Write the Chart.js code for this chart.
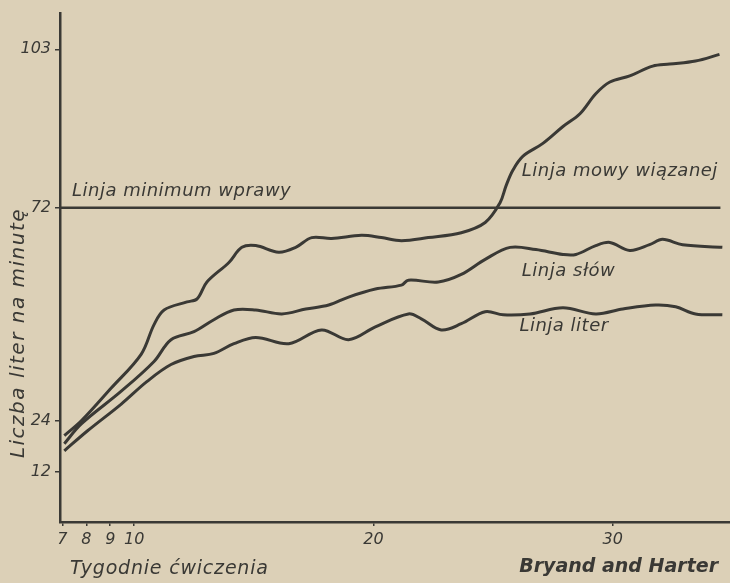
<!DOCTYPE html>
<html>
<head>
<meta charset="utf-8">
<script src="https://cdn.jsdelivr.net/npm/chart.js@4/dist/chart.umd.min.js"></script>
<style>
    html, body { margin: 0; padding: 0; background: #dcd0b7; }
    #wrap { width: 730px; height: 583px; }
</style>
</head>
<body>
<div id="wrap"><canvas id="learningChart"></canvas></div>
<script>
// Tick labels
const xTicks = [7, 8, 9, 10, 20, 30];
const yTicks = [12, 24, 72, 103];

// Linja mowy wiązanej
const mowyWeeks = [7.08, 7.79, 9.04, 10.29, 10.83, 11.25, 12.21, 12.63, 13.04, 13.96, 14.5, 15.08, 16.04, 16.75, 17.42, 18.25, 19.5, 20.33, 21.17, 22.29, 23.67, 24.67, 25.29, 25.54, 25.83, 26.25, 27.08, 27.92, 28.63, 29.29, 29.88, 30.71, 31.67, 32.38, 33.46, 34.46];
const mowyValues = [20.5, 24.0, 31.4, 39.0, 45.7, 49.0, 50.8, 51.5, 55.3, 59.7, 63.1, 63.5, 62.0, 63.1, 65.3, 65.1, 65.8, 65.3, 64.6, 65.3, 66.4, 68.7, 73.0, 76.3, 79.4, 82.1, 84.6, 87.9, 90.4, 94.3, 96.6, 97.8, 99.7, 100.1, 100.7, 102.0];

// Linja słów
const slowWeeks = [7.08, 7.79, 9.46, 10.83, 11.54, 12.5, 13.33, 14.17, 15.08, 16.17, 17.17, 18.13, 18.96, 20.08, 21.17, 21.46, 22.71, 23.67, 24.67, 25.71, 26.79, 27.92, 28.46, 29.29, 29.88, 30.71, 31.54, 32.08, 32.92, 34.58];
const slowValues = [18.6, 23.3, 30.7, 37.4, 42.3, 44.1, 46.8, 49.0, 49.0, 48.1, 49.2, 50.1, 51.9, 53.7, 54.6, 55.7, 55.3, 57.0, 60.4, 63.1, 62.6, 61.5, 61.5, 63.5, 64.2, 62.4, 63.7, 64.9, 63.7, 63.1];

// Linja liter
const literWeeks = [7.08, 8.04, 9.46, 10.54, 11.54, 12.5, 13.33, 14.17, 15.08, 16.46, 17.83, 18.96, 20.08, 21.46, 22.0, 22.83, 23.67, 24.67, 25.42, 26.54, 27.92, 29.29, 30.42, 31.79, 32.63, 33.46, 34.58];
const literValues = [16.9, 21.6, 27.8, 32.9, 36.7, 38.5, 39.2, 41.4, 42.8, 41.4, 44.5, 42.3, 45.2, 48.1, 47.0, 44.5, 45.9, 48.6, 47.9, 48.1, 49.5, 48.1, 49.2, 50.1, 49.7, 48.1, 47.9];

// Linja minimum wprawy
const minimumWeeks = [6.9, 34.5];
const minimumValues = [72, 72];

const ink = '#3a3935';
const paper = '#dcd0b7';
const handFont = '"DejaVu Sans", sans-serif';

// The printed y axis is not evenly spaced: map values through the drawn tick spacing
const warpValues = [0, 12, 24, 72, 103, 110];
const warpHeights = [0, 51, 102, 317, 477, 513];

function interp(v, from, to) {
    let i = 1;
    while (i < from.length - 1 && v > from[i]) i++;
    const t = (v - from[i - 1]) / (from[i] - from[i - 1]);
    return to[i - 1] + t * (to[i] - to[i - 1]);
}

class WarpedScale extends Chart.LinearScale {
    getPixelForValue(value) {
        if (value === null || value === undefined) return NaN;
        const a = interp(this.min, warpValues, warpHeights);
        const b = interp(this.max, warpValues, warpHeights);
        return this.getPixelForDecimal((interp(value, warpValues, warpHeights) - a) / (b - a));
    }
    getValueForPixel(pixel) {
        const a = interp(this.min, warpValues, warpHeights);
        const b = interp(this.max, warpValues, warpHeights);
        return interp(a + this.getDecimalForPixel(pixel) * (b - a), warpHeights, warpValues);
    }
}
WarpedScale.id = 'warped';
WarpedScale.defaults = Chart.LinearScale.defaults;
Chart.register(WarpedScale);

function toPoints(xs, ys) {
    return xs.map((x, i) => ({ x: x, y: ys[i] }));
}

// Text written next to the lines, anchored in week / value units
const lineLabels = [
    { text: 'Linja minimum wprawy', week: 7.4, value: 75.2 },
    { text: 'Linja mowy wiązanej', week: 26.2, value: 79.2 },
    { text: 'Linja słów', week: 26.2, value: 57.7 },
    { text: 'Linja liter', week: 26.1, value: 45.2 }
];

const paperPlugin = {
    id: 'paper',
    beforeDraw(chart) {
        const ctx = chart.ctx;
        ctx.save();
        ctx.fillStyle = paper;
        ctx.fillRect(0, 0, chart.width, chart.height);
        ctx.restore();
    }
};

const notesPlugin = {
    id: 'notes',
    afterDraw(chart) {
        const ctx = chart.ctx;
        const xs = chart.scales.x;
        const ys = chart.scales.y;
        const area = chart.chartArea;
        ctx.save();
        ctx.fillStyle = ink;
        ctx.textBaseline = 'middle';
        ctx.textAlign = 'left';
        ctx.font = 'oblique 18px ' + handFont;
        ctx.letterSpacing = '0.5px';
        lineLabels.forEach(l => {
            ctx.fillText(l.text, xs.getPixelForValue(l.week), ys.getPixelForValue(l.value));
        });

        // axis captions
        ctx.font = 'oblique 19px ' + handFont;
        ctx.letterSpacing = '0.8px';
        ctx.fillText('Tygodnie ćwiczenia', area.left + 10, 569);

        ctx.save();
        ctx.translate(19, 333);
        ctx.rotate(-Math.PI / 2);
        ctx.textAlign = 'center';
        ctx.font = 'oblique 20px ' + handFont;
        ctx.letterSpacing = '1.5px';
        ctx.fillText('Liczba liter na minutę', 0, 0);
        ctx.restore();

        // source credit under the axis
        ctx.font = 'oblique bold 19px ' + handFont;
        ctx.letterSpacing = '0px';
        ctx.textAlign = 'right';
        ctx.fillText('Bryand and Harter', area.right - 12, 567);
        ctx.restore();
    }
};

const lineStyle = {
    borderColor: ink,
    backgroundColor: ink,
    borderWidth: 3,
    pointRadius: 0,
    tension: 0.35,
    fill: false
};

const chart = new Chart(document.getElementById('learningChart'), {
    type: 'line',
    data: {
        datasets: [
            Object.assign({ label: 'Linja mowy wiązanej', data: toPoints(mowyWeeks, mowyValues) }, lineStyle),
            Object.assign({ label: 'Linja słów', data: toPoints(slowWeeks, slowValues) }, lineStyle),
            Object.assign({ label: 'Linja liter', data: toPoints(literWeeks, literValues) }, lineStyle),
            Object.assign({}, lineStyle, { label: 'Linja minimum wprawy', data: toPoints(minimumWeeks, minimumValues), tension: 0, borderWidth: 2.5 })
        ]
    },
    options: {
        responsive: true,
        maintainAspectRatio: false,
        animation: false,
        layout: { padding: { top: 9, right: 0, left: 0, bottom: 0 } },
        plugins: {
            legend: { display: false },
            tooltip: { enabled: false }
        },
        scales: {
            x: {
                type: 'linear',
                min: 6.9,
                max: 34.9,
                afterBuildTicks: scale => { scale.ticks = xTicks.map(v => ({ value: v })); },
                afterFit: scale => { scale.height = 61; },
                grid: { display: true, drawOnChartArea: false, tickLength: 4, color: ink, lineWidth: 1.5 },
                border: { display: true, color: ink, width: 2.5 },
                ticks: {
                    color: ink,
                    padding: 4,
                    maxRotation: 0,
                    autoSkip: false,
                    font: { family: handFont, size: 16, style: 'oblique' }
                }
            },
            y: {
                type: 'warped',
                min: 0,
                max: 110,
                afterBuildTicks: scale => { scale.ticks = yTicks.map(v => ({ value: v })); },
                afterFit: scale => { scale.width = 60; },
                grid: { display: true, drawOnChartArea: false, tickLength: 5, color: ink, lineWidth: 1.5 },
                border: { display: true, color: ink, width: 2.5 },
                ticks: {
                    color: ink,
                    padding: 4,
                    autoSkip: false,
                    font: { family: handFont, size: 16, style: 'oblique' }
                }
            }
        }
    },
    plugins: [paperPlugin, notesPlugin]
});
</script>
</body>
</html>
